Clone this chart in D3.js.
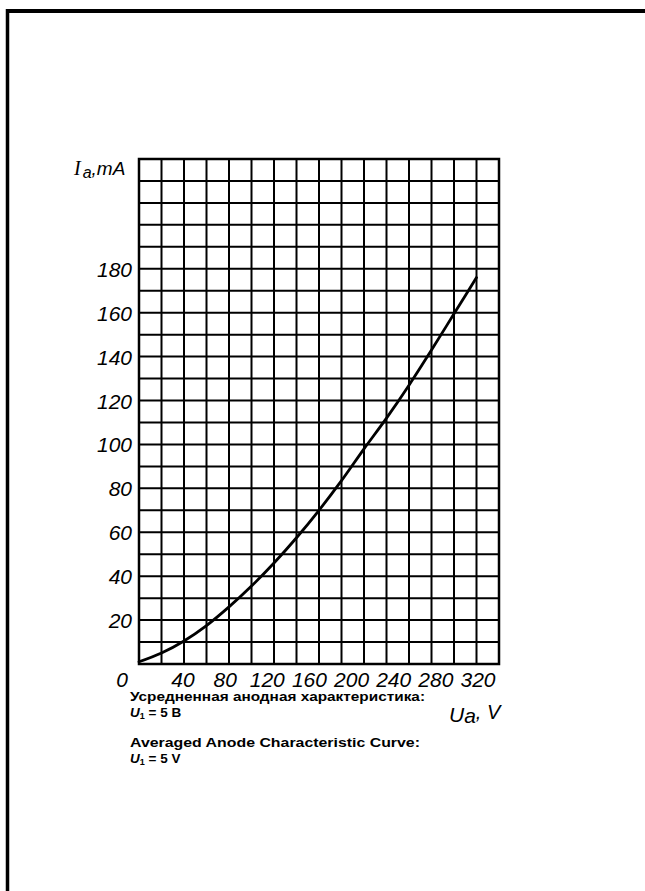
<!DOCTYPE html>
<html><head><meta charset="utf-8">
<script src="https://cdn.jsdelivr.net/npm/d3@7"></script>
<style>
html,body{margin:0;padding:0;background:#fff;}
svg{display:block;}
.tick text{font-family:"Liberation Sans","Arimo",sans-serif;font-style:italic;}
</style></head>
<body>
<svg id="chart" width="645" height="891"></svg>
<script>
// ---- data ----
const voltages = [0, 20, 40, 60, 80, 100, 120, 140, 160, 180, 200, 220, 240, 260, 280, 300];
const currents = [1, 5, 10.5, 17.5, 26, 35.5, 46, 57.5, 70, 83.5, 98, 112, 127, 143, 159.5, 176];
const xTickLabels = [0, 40, 80, 120, 160, 200, 240, 280, 320];
const yTickLabels = [20, 40, 60, 80, 100, 120, 140, 160, 180];
const captionRu = "Усредненная анодная характеристика:";
const captionEn = "Averaged Anode Characteristic Curve:";

const svg = d3.select("#chart");
const ink = "#000";

// page frame (top and left rules)
svg.append("line").attr("x1", 6).attr("x2", 645).attr("y1", 11).attr("y2", 11)
  .attr("stroke", ink).attr("stroke-width", 4);
svg.append("line").attr("x1", 7.5).attr("x2", 7.5).attr("y1", 9).attr("y2", 891)
  .attr("stroke", ink).attr("stroke-width", 3.5);

const x = d3.scaleLinear().domain([0, 320]).range([139, 499]);
const y = d3.scaleLinear().domain([0, 230]).range([664, 159]);

const g = svg.append("g");
// grid
g.selectAll("line.v").data(d3.range(0, 321, 20)).join("line").attr("class", "v")
  .attr("x1", d => x(d)).attr("x2", d => x(d)).attr("y1", y(0)).attr("y2", y(230))
  .attr("stroke", ink).attr("stroke-width", 2);
g.selectAll("line.h").data(d3.range(0, 231, 10)).join("line").attr("class", "h")
  .attr("x1", x(0)).attr("x2", x(320)).attr("y1", d => y(d)).attr("y2", d => y(d))
  .attr("stroke", ink).attr("stroke-width", 2);
g.append("rect").attr("x", x(0)).attr("y", y(230)).attr("width", x(320) - x(0)).attr("height", y(0) - y(230))
  .attr("fill", "none").attr("stroke", ink).attr("stroke-width", 2.5);

// curve
const line = d3.line().x((d, i) => x(voltages[i])).y(d => y(d)).curve(d3.curveMonotoneX);
g.append("path").datum(currents).attr("d", line).attr("fill", "none")
  .attr("stroke", ink).attr("stroke-width", 2.8).attr("stroke-linecap", "round");

// y axis labels
const yAxis = d3.axisLeft(y).tickValues(yTickLabels).tickSize(0).tickPadding(7);
const ya = svg.append("g").attr("transform", `translate(${x(0)},0)`).call(yAxis);
ya.select(".domain").remove();
ya.selectAll("text").attr("font-size", 21).attr("fill", ink).attr("dy", "0.36em");

// x axis labels (hand-lettered, slightly compressed spacing)
const xl = d3.scaleLinear().domain([40, 320]).range([x(40) - 1, x(320) - 21]);
const xa = svg.append("g");
xa.selectAll("text").data(xTickLabels).join("text")
  .attr("x", d => d === 0 ? x(0) - 17 : xl(d)).attr("y", 687)
  .attr("text-anchor", "middle").attr("font-size", 21)
  .attr("font-family", "'Liberation Sans',Arimo,sans-serif").attr("font-style", "italic")
  .attr("fill", ink).text(d => d);

// axis titles
const yt = svg.append("text").attr("x", 74).attr("y", 175).attr("fill", ink)
  .attr("font-style", "italic");
yt.append("tspan").attr("font-family", "'Liberation Serif',serif").attr("font-size", 20).text("I");
yt.append("tspan").attr("font-family", "'Liberation Sans',sans-serif").attr("font-size", 16).attr("dx", 2).attr("dy", 3).text("a");
yt.append("tspan").attr("font-family", "'Liberation Sans',sans-serif").attr("font-size", 19).attr("dy", -3).text(",mA");

const xt = svg.append("text").attr("x", 449).attr("y", 722).attr("fill", ink)
  .attr("font-style", "italic").attr("font-family", "'Liberation Sans',sans-serif");
xt.append("tspan").attr("font-size", 21).text("U");
xt.append("tspan").attr("font-size", 21).attr("dy", 1).text("a");
xt.append("tspan").attr("font-size", 20).attr("dy", -4).text(", V");

// captions
function cap(txt, yy, len) {
  svg.append("text").attr("x", 130).attr("y", yy).attr("font-family", "'Liberation Sans',Arimo,sans-serif")
    .attr("font-weight", "bold").attr("font-size", 13.5).attr("fill", ink)
    .attr("textLength", len).attr("lengthAdjust", "spacingAndGlyphs").text(txt);
}
function uline(unit, yy) {
  const t = svg.append("text").attr("x", 130).attr("y", yy).attr("font-family", "'Liberation Sans',Arimo,sans-serif")
    .attr("font-weight", "bold").attr("font-size", 13.5).attr("fill", ink);
  t.append("tspan").attr("font-style", "italic").text("U");
  t.append("tspan").attr("font-size", 9).attr("dy", 2).text("1");
  t.append("tspan").attr("dy", -2).text(" = 5 " + unit);
}
cap(captionRu, 701, 295);
uline("B", 717);
cap(captionEn, 747, 290);
uline("V", 763);
</script>
</body></html>
